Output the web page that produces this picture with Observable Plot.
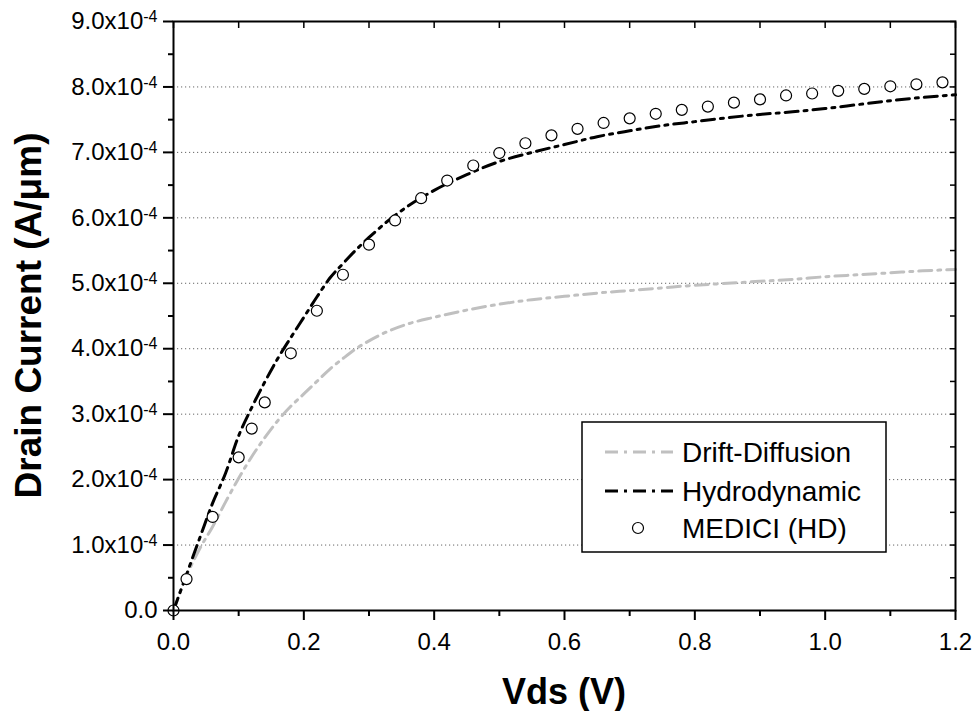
<!DOCTYPE html>
<html>
<head>
<meta charset="utf-8">
<script src="https://cdn.jsdelivr.net/npm/d3@7"></script>
<script src="https://cdn.jsdelivr.net/npm/@observablehq/plot@0.6"></script>
<style>
  body { margin: 0; background: #fff; }
  #chart { width: 976px; height: 711px; }
</style>
</head>
<body>
<div id="chart"></div>
<script>
// ---- Data (current in units of 1e-4 A/μm) ----
const vds = [0, 0.02, 0.04, 0.06, 0.08, 0.10, 0.12, 0.14, 0.16, 0.18, 0.20, 0.22, 0.24, 0.26, 0.28, 0.30, 0.33, 0.36, 0.40, 0.45, 0.50, 0.55, 0.60, 0.65, 0.70, 0.75, 0.80, 0.85, 0.90, 0.95, 1.00, 1.05, 1.10, 1.15, 1.20];
const driftDiffusion = [0, 0.53, 0.94, 1.28, 1.66, 2.02, 2.35, 2.64, 2.90, 3.12, 3.31, 3.50, 3.69, 3.85, 4.00, 4.12, 4.27, 4.38, 4.48, 4.59, 4.68, 4.75, 4.80, 4.85, 4.89, 4.93, 4.97, 5.00, 5.03, 5.06, 5.10, 5.13, 5.16, 5.19, 5.21];
const hydrodynamic = [0, 0.55, 1.10, 1.64, 2.10, 2.67, 3.10, 3.49, 3.85, 4.17, 4.48, 4.79, 5.08, 5.30, 5.51, 5.70, 5.96, 6.18, 6.42, 6.66, 6.86, 7.00, 7.12, 7.24, 7.33, 7.41, 7.47, 7.53, 7.58, 7.62, 7.67, 7.73, 7.79, 7.84, 7.88];
const mediciVds = [0, 0.02, 0.06, 0.10, 0.12, 0.14, 0.18, 0.22, 0.26, 0.30, 0.34, 0.38, 0.42, 0.46, 0.50, 0.54, 0.58, 0.62, 0.66, 0.70, 0.74, 0.78, 0.82, 0.86, 0.90, 0.94, 0.98, 1.02, 1.06, 1.10, 1.14, 1.18];
const mediciCurrent = [0, 0.48, 1.43, 2.34, 2.78, 3.18, 3.93, 4.58, 5.13, 5.59, 5.96, 6.30, 6.57, 6.80, 6.99, 7.14, 7.26, 7.36, 7.45, 7.52, 7.59, 7.65, 7.70, 7.76, 7.81, 7.87, 7.90, 7.94, 7.97, 8.01, 8.04, 8.07];

const seriesNames = ["Drift-Diffusion", "Hydrodynamic", "MEDICI (HD)"];
const yMajor = [0, 1, 2, 3, 4, 5, 6, 7, 8, 9];
const yMinor = [0.5, 1.5, 2.5, 3.5, 4.5, 5.5, 6.5, 7.5, 8.5];
const yTickLabels = ["0.0", "1.0x10", "2.0x10", "3.0x10", "4.0x10", "5.0x10", "6.0x10", "7.0x10", "8.0x10", "9.0x10"];
const yExponent = "-4";
const xMajor = [0, 0.2, 0.4, 0.6, 0.8, 1.0, 1.2];
const xMinor = [0.1, 0.3, 0.5, 0.7, 0.9, 1.1];
const xTickLabels = ["0.0", "0.2", "0.4", "0.6", "0.8", "1.0", "1.2"];
const xTitle = "Vds (V)";
const yTitle = "Drain Current (A/\u03bcm)";

// ---- Build tables ----
const ddRows = vds.map((v, i) => ({vds: v, current: driftDiffusion[i]}));
const hdRows = vds.map((v, i) => ({vds: v, current: hydrodynamic[i]}));
const mediciRows = mediciVds.map((v, i) => ({vds: v, current: mediciCurrent[i]}));

const FONT = "Arial, 'Liberation Sans', sans-serif";
const W = 976, H = 711, ML = 173, MR = 21, MT = 21, MB = 101;
const DD_COLOR = "#c0c0c0";
const DASH = "13,6,3,6";

const plot = Plot.plot({
  width: W, height: H,
  marginLeft: ML, marginRight: MR, marginTop: MT, marginBottom: MB,
  style: {fontFamily: FONT, fontSize: "24px", color: "black", background: "white", overflow: "visible"},
  x: {domain: [0, 1.2]},
  y: {domain: [0, 9]},
  marks: [
    Plot.gridY(yMajor.slice(1, -1), {stroke: "#666", strokeOpacity: 1, strokeWidth: 1, strokeDasharray: "1.2,2.8"}),
    Plot.line(ddRows, {x: "vds", y: "current", stroke: DD_COLOR, strokeWidth: 3, strokeDasharray: DASH, curve: "monotone-x"}),
    Plot.line(hdRows, {x: "vds", y: "current", stroke: "black", strokeWidth: 3, strokeDasharray: DASH, curve: "monotone-x"}),
    Plot.dot(mediciRows, {x: "vds", y: "current", r: 5.5, stroke: "black", fill: "white", strokeWidth: 1.2}),
    // left axis (major + minor, outward)
    Plot.axisY(yMajor, {anchor: "left", tickSize: 10, tickPadding: 6, strokeWidth: 2, fontSize: 24,
      tickFormat: d => yTickLabels[yMajor.indexOf(d)], label: null}),
    Plot.axisY(yMinor, {anchor: "left", tickSize: 5, strokeWidth: 2, tickFormat: () => "", label: null}),
    // bottom axis
    Plot.axisX(xMajor, {anchor: "bottom", tickSize: 10, tickPadding: 12, strokeWidth: 2, fontSize: 24,
      tickFormat: d => xTickLabels[xMajor.indexOf(d)], label: null}),
    Plot.axisX(xMinor, {anchor: "bottom", tickSize: 6, strokeWidth: 2, tickFormat: () => "", label: null}),
    // top & right inward ticks
    Plot.axisX(xMajor.concat(xMinor), {anchor: "top", tickSize: -6, strokeWidth: 1.5, tickFormat: () => "", label: null}),
    Plot.axisY(yMajor.concat(yMinor), {anchor: "right", tickSize: -6, strokeWidth: 1.5, tickFormat: () => "", label: null}),
    Plot.frame({stroke: "black", strokeWidth: 2})
  ]
});

document.getElementById("chart").appendChild(plot);
const svg = d3.select(plot);

// superscript exponents on y tick labels
svg.selectAll('g[aria-label="y-axis tick label"] text').each(function() {
  const t = d3.select(this);
  if (t.text() !== "0.0" && t.text() !== "") {
    t.append("tspan").attr("dy", "-7").style("font-size", "16px").text(yExponent);
  }
});

// axis titles
svg.append("text")
  .attr("x", (ML + (W - MR)) / 2).attr("y", 704)
  .style("text-anchor", "middle").style("font-family", FONT)
  .style("font-weight", "bold").style("font-size", "36px").attr("fill", "black")
  .text(xTitle);
svg.append("text")
  .attr("transform", `translate(41,${(MT + (H - MB)) / 2}) rotate(-90)`)
  .style("text-anchor", "middle").style("font-family", FONT)
  .style("font-weight", "bold").style("font-size", "37px").attr("fill", "black")
  .text(yTitle);

// legend
const lg = svg.append("g").style("font-family", FONT).style("font-size", "28px");
lg.append("rect").attr("x", 582).attr("y", 422).attr("width", 304).attr("height", 130)
  .attr("fill", "white").attr("stroke", "black").attr("stroke-width", 1.5);
const rowsY = [452, 491, 528];
[DD_COLOR, "black"].forEach((c, i) => {
  lg.append("line").attr("x1", 605).attr("x2", 673).attr("y1", rowsY[i]).attr("y2", rowsY[i])
    .attr("stroke", c).attr("stroke-width", 3).attr("stroke-dasharray", DASH);
});
lg.append("circle").attr("cx", 638).attr("cy", rowsY[2]).attr("r", 5.5)
  .attr("fill", "white").attr("stroke", "black").attr("stroke-width", 1.2);
seriesNames.forEach((s, i) => {
  lg.append("text").attr("x", 682).attr("y", rowsY[i]).attr("dy", "0.35em")
    .style("text-anchor", "start").attr("fill", "black").text(s);
});
</script>
</body>
</html>
